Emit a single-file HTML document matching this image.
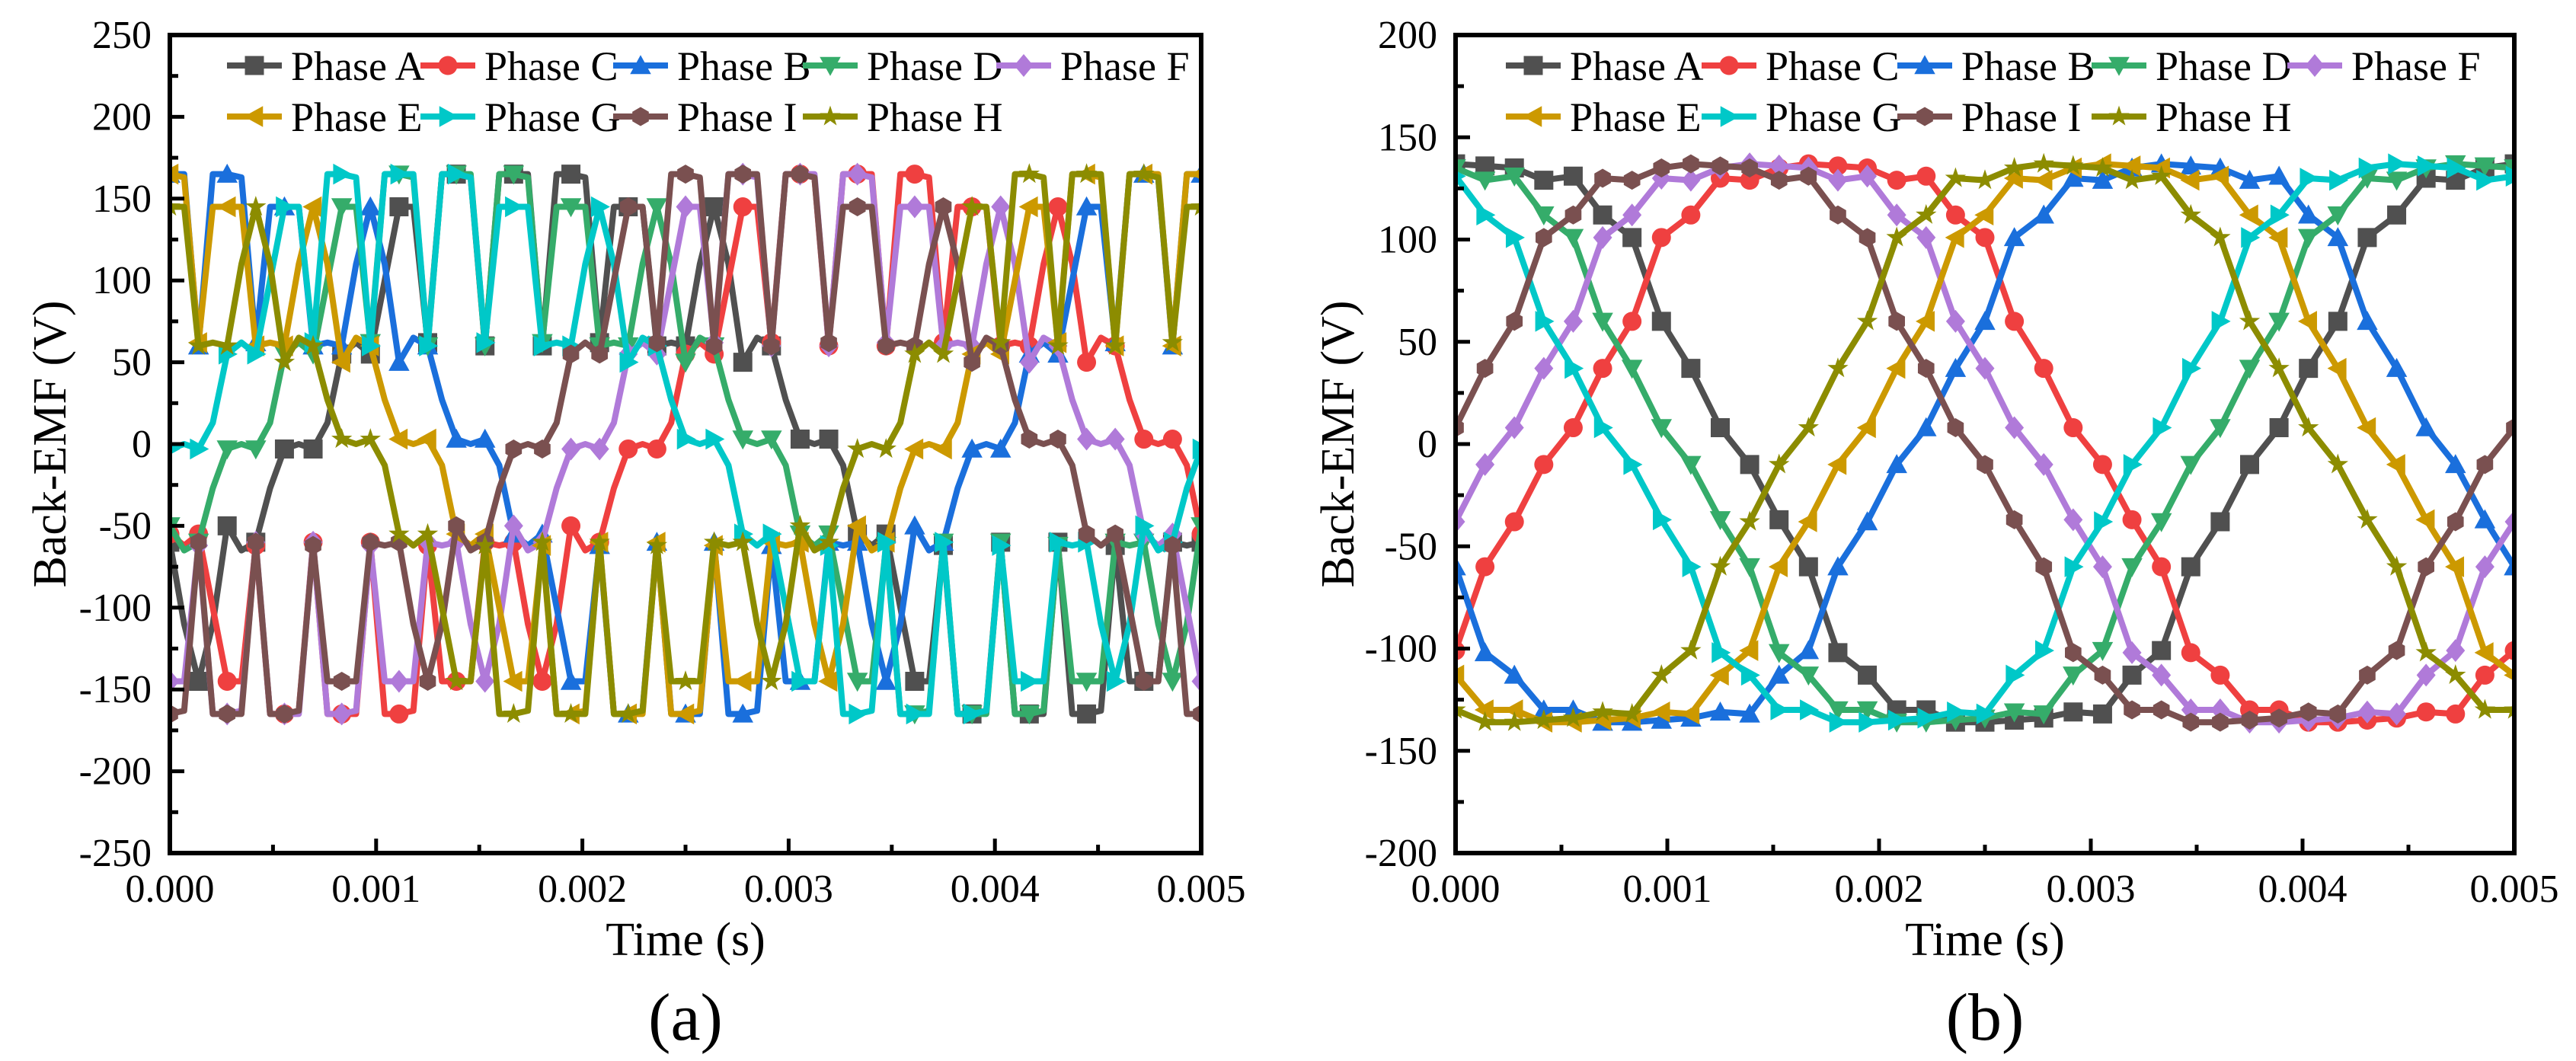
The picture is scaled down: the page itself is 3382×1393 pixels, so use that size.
<!DOCTYPE html>
<html><head><meta charset="utf-8"><style>
html,body{margin:0;padding:0;background:#fff;}
svg{display:block;}
svg text{font-family:"Liberation Serif","Times New Roman",serif;}
</style></head><body>
<svg id="fig" width="3382" height="1393" viewBox="0 0 3382 1393" xmlns="http://www.w3.org/2000/svg" font-family="Liberation Serif, serif"></svg>
<script>
// ---------- Data: chart (a) ----------
const aTimeEnd = 0.005;
const aPhaseA = [-60,-110,-145,-110,-50,-65,-60,-27,-3,0,-3,13, 55,62,55,100,145,145,62,165,165,163,60,165, 165,165,60,165,165,163,62,145,145,145,60,62, 60,110,145,110,50,65,60,27,3,0,3,-13, -55,-62,-55,-100,-145,-145,-62,-165,-165,-163,-60,-165, -165,-165,-60,-165,-165,-163,-62,-145,-145,-145,-60,-62, -60];
const aPhaseB = [165,165,60,165,165,163,62,145,145,145,60,62, 60,110,145,110,50,65,60,27,3,0,3,-13, -55,-62,-55,-100,-145,-145,-62,-165,-165,-163,-60,-165, -165,-165,-60,-165,-165,-163,-62,-145,-145,-145,-60,-62, -60,-110,-145,-110,-50,-65,-60,-27,-3,0,-3,13, 55,62,55,100,145,145,62,165,165,163,60,165, 165];
const aPhaseC = [-55,-62,-55,-100,-145,-145,-62,-165,-165,-163,-60,-165, -165,-165,-60,-165,-165,-163,-62,-145,-145,-145,-60,-62, -60,-110,-145,-110,-50,-65,-60,-27,-3,0,-3,13, 55,62,55,100,145,145,62,165,165,163,60,165, 165,165,60,165,165,163,62,145,145,145,60,62, 60,110,145,110,50,65,60,27,3,0,3,-13, -55];
const aPhaseD = [-50,-65,-60,-27,-3,0,-3,13, 55,62,55,100,145,145,62,165,165,163,60,165, 165,165,60,165,165,163,62,145,145,145,60,62, 60,110,145,110,50,65,60,27,3,0,3,-13, -55,-62,-55,-100,-145,-145,-62,-165,-165,-163,-60,-165, -165,-165,-60,-165,-165,-163,-62,-145,-145,-145,-60,-62, -60,-110,-145,-110, -50];
const aPhaseE = [165,163,62,145,145,145,60,62, 60,110,145,110,50,65,60,27,3,0,3,-13, -55,-62,-55,-100,-145,-145,-62,-165,-165,-163,-60,-165, -165,-165,-60,-165,-165,-163,-62,-145,-145,-145,-60,-62, -60,-110,-145,-110,-50,-65,-60,-27,-3,0,-3,13, 55,62,55,100,145,145,62,165,165,163,60,165, 165,165,60,165, 165];
const aPhaseF = [-145,-145,-62,-165,-165,-163,-60,-165, -165,-165,-60,-165,-165,-163,-62,-145,-145,-145,-60,-62, -60,-110,-145,-110,-50,-65,-60,-27,-3,0,-3,13, 55,62,55,100,145,145,62,165,165,163,60,165, 165,165,60,165,165,163,62,145,145,145,60,62, 60,110,145,110,50,65,60,27,3,0,3,-13, -55,-62,-55,-100, -145];
const aPhaseG = [-3,0,-3,13, 55,62,55,100,145,145,62,165,165,163,60,165, 165,165,60,165,165,163,62,145,145,145,60,62, 60,110,145,110,50,65,60,27,3,0,3,-13, -55,-62,-55,-100,-145,-145,-62,-165,-165,-163,-60,-165, -165,-165,-60,-165,-165,-163,-62,-145,-145,-145,-60,-62, -60,-110,-145,-110,-50,-65,-60,-27, -3];
const aPhaseH = [145,145,60,62, 60,110,145,110,50,65,60,27,3,0,3,-13, -55,-62,-55,-100,-145,-145,-62,-165,-165,-163,-60,-165, -165,-165,-60,-165,-165,-163,-62,-145,-145,-145,-60,-62, -60,-110,-145,-110,-50,-65,-60,-27,-3,0,-3,13, 55,62,55,100,145,145,62,165,165,163,60,165, 165,165,60,165,165,163,62,145, 145];
const aPhaseI = [-165,-163,-60,-165, -165,-165,-60,-165,-165,-163,-62,-145,-145,-145,-60,-62, -60,-110,-145,-110,-50,-65,-60,-27,-3,0,-3,13, 55,62,55,100,145,145,62,165,165,163,60,165, 165,165,60,165,165,163,62,145,145,145,60,62, 60,110,145,110,50,65,60,27,3,0,3,-13, -55,-62,-55,-100,-145,-145,-62,-165, -165];
const aYTicks = [-250,-200,-150,-100,-50,0,50,100,150,200,250];
const aXTicks = ["0.000","0.001","0.002","0.003","0.004","0.005"];

// ---------- Data: chart (b) ----------
const bPhaseA = [137,136,135,129,131,112,101,60,37,8,-10,-37,-60,-102,-113,-130,-130,-136,-136,-135,-134,-131,-132,-113,-101,-60,-38,-10,8,37,60,101,112,130,129,135,137];
const bPhaseD = [135,129,131,112,101,60,37,8,-10,-37,-60,-102,-113,-130,-130,-136,-136,-135,-134,-131,-132,-113,-101,-60,-38,-10,8,37,60,101,112,130,129,135,137,136,135];
const bPhaseG = [131,112,101,60,37,8,-10,-37,-60,-102,-113,-130,-130,-136,-136,-135,-134,-131,-132,-113,-101,-60,-38,-10,8,37,60,101,112,130,129,135,137,136,135,129,131];
const bPhaseB = [-60,-102,-113,-130,-130,-136,-136,-135,-134,-131,-132,-113,-101,-60,-38,-10,8,37,60,101,112,130,129,135,137,136,135,129,131,112,101,60,37,8,-10,-37,-60];
const bPhaseE = [-113,-130,-130,-136,-136,-135,-134,-131,-132,-113,-101,-60,-38,-10,8,37,60,101,112,130,129,135,137,136,135,129,131,112,101,60,37,8,-10,-37,-60,-102,-113];
const bPhaseH = [-130,-136,-136,-135,-134,-131,-132,-113,-101,-60,-38,-10,8,37,60,101,112,130,129,135,137,136,135,129,131,112,101,60,37,8,-10,-37,-60,-102,-113,-130,-130];
const bPhaseC = [-101,-60,-38,-10,8,37,60,101,112,130,129,135,137,136,135,129,131,112,101,60,37,8,-10,-37,-60,-102,-113,-130,-130,-136,-136,-135,-134,-131,-132,-113,-101];
const bPhaseF = [-38,-10,8,37,60,101,112,130,129,135,137,136,135,129,131,112,101,60,37,8,-10,-37,-60,-102,-113,-130,-130,-136,-136,-135,-134,-131,-132,-113,-101,-60,-38];
const bPhaseI = [8,37,60,101,112,130,129,135,137,136,135,129,131,112,101,60,37,8,-10,-37,-60,-102,-113,-130,-130,-136,-136,-135,-134,-131,-132,-113,-101,-60,-38,-10,8];
const bYTicks = [-200,-150,-100,-50,0,50,100,150,200];
const bXTicks = ["0.000","0.001","0.002","0.003","0.004","0.005"];

const colors = {"Phase A":"#505050","Phase C":"#ef4040","Phase B":"#1a6fdc","Phase D":"#35ac6a","Phase F":"#b07ad9","Phase E":"#cc9900","Phase G":"#00c8c8","Phase I":"#7a5050","Phase H":"#8c8c00"};
const markers = {"Phase A":"square","Phase C":"circle","Phase B":"up","Phase D":"down","Phase F":"diamond","Phase E":"left","Phase G":"right","Phase I":"hex","Phase H":"star"};

const NS = "http://www.w3.org/2000/svg";
const svg = document.getElementById("fig");
function mk(tag, attrs, parent){ const e=document.createElementNS(NS,tag); for(const k in attrs) e.setAttribute(k,attrs[k]); (parent||svg).appendChild(e); return e; }

function markerPath(type, x, y, s){
  const r=s/2;
  switch(type){
    case "square": return `M${x-r},${y-r}h${s}v${s}h${-s}Z`;
    case "circle": return `M${x-r},${y}a${r},${r} 0 1,0 ${s},0a${r},${r} 0 1,0 ${-s},0Z`;
    case "up": return `M${x},${y-r*1.1}L${x+r*1.1},${y+r*0.9}L${x-r*1.1},${y+r*0.9}Z`;
    case "down": return `M${x},${y+r*1.1}L${x+r*1.1},${y-r*0.9}L${x-r*1.1},${y-r*0.9}Z`;
    case "left": return `M${x-r*1.1},${y}L${x+r*0.9},${y-r*1.1}L${x+r*0.9},${y+r*1.1}Z`;
    case "right": return `M${x+r*1.1},${y}L${x-r*0.9},${y-r*1.1}L${x-r*0.9},${y+r*1.1}Z`;
    case "diamond": return `M${x},${y-r*1.2}L${x+r},${y}L${x},${y+r*1.2}L${x-r},${y}Z`;
    case "hex": { let p=""; for(let i=0;i<6;i++){const a=Math.PI/6+i*Math.PI/3; p+=(i?"L":"M")+(x+r*Math.cos(a))+","+(y+r*Math.sin(a));} return p+"Z"; }
    case "star": { let p=""; for(let i=0;i<10;i++){const a=-Math.PI/2+i*Math.PI/5; const rr=i%2?r*0.45:r*1.15; p+=(i?"L":"M")+(x+rr*Math.cos(a))+","+(y+rr*Math.sin(a));} return p+"Z"; }
  }
}

function drawChart(cfg){
  const {id,L,R,T,B,ymin,ymax,yTicks,xTicks,series,markEvery,panel,legendX} = cfg;
  const g = mk("g",{});
  
  
  const xs = t => L + (t/0.005)*(R-L);
  const ys = v => B - (v-ymin)/(ymax-ymin)*(B-T);
  const clipId = id+"clip";
  const cp = mk("clipPath",{id:clipId},g); mk("rect",{x:L,y:T,width:R-L,height:B-T},cp);
  const plot = mk("g",{"clip-path":`url(#${clipId})`},g);
  
  
  series.forEach(s=>{
    const n = s.values.length;
    const step = 0.005/(n-1);
    let d="";
    s.values.forEach((v,i)=>{ d += (i?"L":"M")+xs(i*step).toFixed(1)+","+ys(v).toFixed(1); });
    const sg = mk("g",{},plot);
    
    
    mk("path",{d:d,fill:"none",stroke:colors[s.name],"stroke-width":8,"stroke-linejoin":"round"},sg);
    let md="";
    s.values.forEach((v,i)=>{ if(i%markEvery===0) md += markerPath(markers[s.name], xs(i*step), ys(v), 25); });
    mk("path",{d:md,fill:colors[s.name]},sg);
  });
  const frame = mk("rect",{x:L,y:T,width:R-L,height:B-T,fill:"none",stroke:"#000","stroke-width":6},g);
  
  
  const yStep = yTicks[1]-yTicks[0];
  yTicks.forEach((v,i)=>{
    const y=ys(v);
    mk("line",{x1:L,x2:L+19,y1:y,y2:y,stroke:"#000","stroke-width":5},g);
    if(i<yTicks.length-1){ const ym=ys(v+yStep/2); mk("line",{x1:L,x2:L+11,y1:ym,y2:ym,stroke:"#000","stroke-width":5},g); }
    const t = mk("text",{x:L-24,y:y+17,"text-anchor":"end","font-size":52},g);
    t.textContent = String(v);
    
    
  });
  xTicks.forEach((lab,i)=>{
    const tv = i*0.001;
    const x=xs(tv);
    mk("line",{x1:x,x2:x,y1:B,y2:B-19,stroke:"#000","stroke-width":5},g);
    if(i<xTicks.length-1){ const xm=xs(tv+0.0005); mk("line",{x1:xm,x2:xm,y1:B,y2:B-11,stroke:"#000","stroke-width":5},g); }
    const t = mk("text",{x:x,y:1184,"text-anchor":"middle","font-size":52},g);
    t.textContent = lab;
    
    
  });
  const xt = mk("text",{x:(L+R)/2,y:1254,"text-anchor":"middle","font-size":62},g);
  xt.textContent = "Time (s)";
  
  
  const yt = mk("text",{x:0,y:0,"text-anchor":"middle","font-size":62,transform:`translate(${cfg.yTitleX},${(T+B)/2}) rotate(-90)`},g);
  yt.textContent = "Back-EMF (V)";
  
  
  const pl = mk("text",{x:(L+R)/2,y:1365,"text-anchor":"middle","font-size":88},g);
  pl.textContent = panel;
  
  
  const leg = mk("g",{},g);
  
  
  series.forEach((s,i)=>{
    const row = i<5?0:1, col = i<5?i:i-5;
    const x0 = legendX[col], yc = row? 153:86;
    const e = mk("g",{},leg);
    
    
    mk("line",{x1:x0,x2:x0+72,y1:yc,y2:yc,stroke:colors[s.name],"stroke-width":8},e);
    mk("path",{d:markerPath(markers[s.name],x0+36,yc,25),fill:colors[s.name]},e);
    const t = mk("text",{x:x0+84,y:yc+19,"font-size":54},e);
    t.textContent = s.name;
  });
}

drawChart({id:"chart-a",L:223,R:1577,T:46,B:1120,ymin:-250,ymax:250,yTicks:aYTicks,xTicks:aXTicks,markEvery:2,panel:"(a)",yTitleX:86,
  legendX:[298,552,805,1054,1308],
  series:[{name:"Phase A",values:aPhaseA},{name:"Phase C",values:aPhaseC},{name:"Phase B",values:aPhaseB},{name:"Phase D",values:aPhaseD},{name:"Phase F",values:aPhaseF},{name:"Phase E",values:aPhaseE},{name:"Phase G",values:aPhaseG},{name:"Phase I",values:aPhaseI},{name:"Phase H",values:aPhaseH}]});
drawChart({id:"chart-b",L:1911,R:3301,T:46,B:1120,ymin:-200,ymax:200,yTicks:bYTicks,xTicks:bXTicks,markEvery:1,panel:"(b)",yTitleX:1777,
  legendX:[1977,2234,2491,2746,3003],
  series:[{name:"Phase A",values:bPhaseA},{name:"Phase C",values:bPhaseC},{name:"Phase B",values:bPhaseB},{name:"Phase D",values:bPhaseD},{name:"Phase F",values:bPhaseF},{name:"Phase E",values:bPhaseE},{name:"Phase G",values:bPhaseG},{name:"Phase I",values:bPhaseI},{name:"Phase H",values:bPhaseH}]});
</script>
</body></html>
